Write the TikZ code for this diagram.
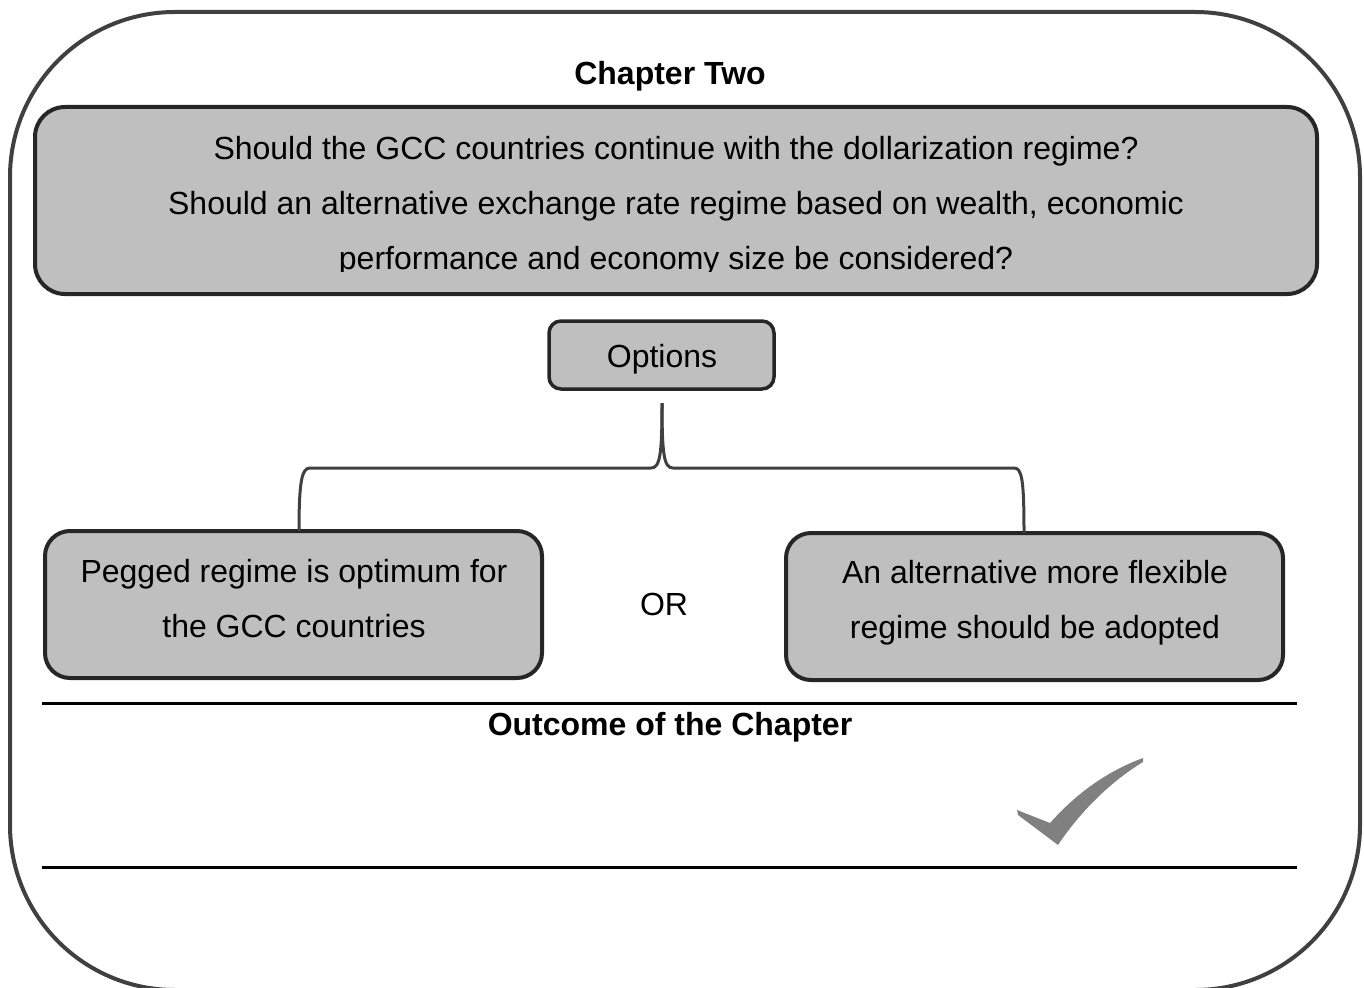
\documentclass[tikz,border=0pt]{standalone}
\usepackage{fontspec}
\setmainfont{Liberation Sans}
\begin{document}
\begin{tikzpicture}[x=1pt,y=-1pt,
  frame/.style={draw=black!75,line width=4pt},
  greybox/.style={draw=black!85,line width=4pt,fill=black!25,inner sep=0pt},
  body/.style={font=\fontsize{32}{55}\selectfont,align=center,inner sep=0pt},
  title/.style={font=\fontsize{32}{38}\selectfont\bfseries,inner sep=0pt},
  brace/.style={draw=black!75,line width=3pt},
  rule/.style={draw=black,line width=3pt},
  tick/.style={fill=black!50,draw=none}]
\useasboundingbox (0,0) rectangle (1364,987);
% outer frame
\draw[frame,rounded corners=165pt] (10,12) rectangle (1360,990);
% title
\node[title] (t1) at (670,76) {Chapter Two};
% question box
\node[greybox,rounded corners=30pt,minimum width=1282pt,minimum height=187pt] (q) at (676,200.5) {};
\begin{scope}
\clip (40,110) rectangle (1312,271);
\node[body] (qt) at (676,206.5) {Should the GCC countries continue with the dollarization regime?\\Should an alternative exchange rate regime based on wealth, economic\\performance and economy size be considered?};
\end{scope}
% options
\node[greybox,rounded corners=12pt,minimum width=225pt,minimum height=68pt,line width=3.5pt] (opt) at (661.5,355) {};
\node[body] (optt) at (662,359) {Options};
% option boxes
\node[greybox,rounded corners=25pt,minimum width=497pt,minimum height=147pt] (l) at (293.5,604.5) {};
\node[body] (lt) at (294,599) {Pegged regime is optimum for\\the GCC countries};
\node[greybox,rounded corners=25pt,minimum width=497pt,minimum height=147pt] (r) at (1034.5,606.5) {};
\node[body] (rt) at (1035,603) {An alternative more flexible\\regime should be adopted};
\node[body] (or) at (664,604) {OR};
% brace
\coordinate (top) at (662,403);
\coordinate (bl) at (299,531);
\coordinate (br) at (1024,533);
\draw[brace] (bl) .. controls (299,480) and (302,468) .. (310,468) -- (651,468)
  .. controls (660,468) and (662,455) .. (top);
\draw[brace] (br) .. controls (1024,480) and (1022,468) .. (1014,468) -- (673,468)
  .. controls (664,468) and (662,455) .. (top);
% rules
\coordinate (r1a) at (42,703); \coordinate (r1b) at (1297,703);
\coordinate (r2a) at (42,867); \coordinate (r2b) at (1297,867);
\draw[rule] (r1a) -- (r1b);
\draw[rule] (r2a) -- (r2b);
\node[title] (t2) at (670,727) {Outcome of the Chapter};
% check mark
\fill[tick] (1017,810) -- (1050,823) .. controls (1075,795) and (1105,772) .. (1143,758)
  -- (1143,762) .. controls (1110,782) and (1080,812) .. (1058,845) -- (1018,815) -- cycle;
\end{tikzpicture}
\end{document}
